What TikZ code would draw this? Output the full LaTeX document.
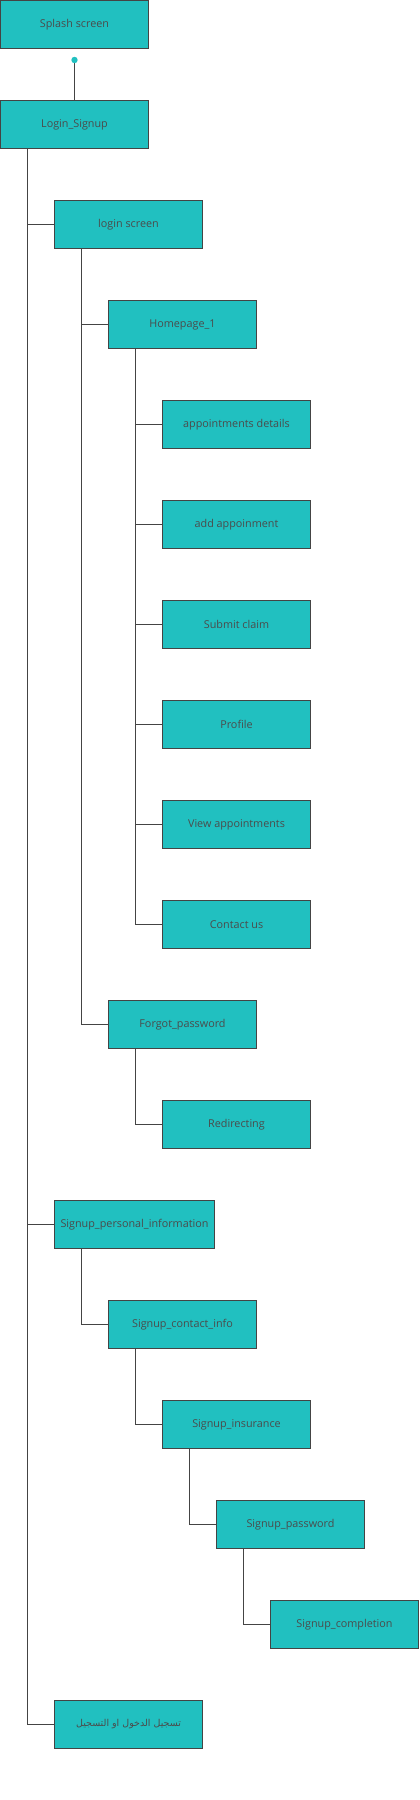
\documentclass[tikz,border=0pt]{standalone}
\usepackage{fontspec}
\setmainfont{Open Sans}
\newfontfamily\arabicfont[Script=Arabic]{DejaVu Sans}
\TeXXeTstate=1
\definecolor{boxfill}{RGB}{33,192,192}
\definecolor{boxline}{RGB}{68,68,68}
\definecolor{boxtext}{RGB}{75,75,75}
\tikzset{
  scr/.style={draw=boxline, line width=1pt, fill=boxfill, text=boxtext,
    minimum width=148pt, minimum height=48pt, inner sep=2pt,
    font=\fontsize{10.8pt}{13pt}\selectfont},
  wide/.style={scr, minimum width=160pt},
  link/.style={draw=boxline, line width=1pt}
}
\begin{document}
\begin{tikzpicture}[x=1pt,y=-1pt]
\useasboundingbox (0,0) rectangle (420,1800);
% level 0
\node[scr] (splash) at (74.5,24.5) {Splash screen};
\node[scr] (login) at (74.5,124.5) {Login\_Signup};
% level 1
\node[scr] (lscreen) at (128.5,224.5) {login screen};
\node[wide] (spi) at (134.5,1224.5) {Signup\_personal\_information};
\node[scr] (arab) at (128.5,1724.5) {\arabicfont\fontsize{9.5pt}{11pt}\selectfont\beginR تسجيل الدخول او التسجيل\endR};
% level 2
\node[scr] (home) at (182.5,324.5) {Homepage\_1};
\node[scr] (forgot) at (182.5,1024.5) {Forgot\_password};
\node[scr] (sci) at (182.5,1324.5) {Signup\_contact\_info};
% level 3
\node[scr] (appd) at (236.5,424.5) {appointments details};
\node[scr] (adda) at (236.5,524.5) {add appoinment};
\node[scr] (subm) at (236.5,624.5) {Submit claim};
\node[scr] (prof) at (236.5,724.5) {Profile};
\node[scr] (viewa) at (236.5,824.5) {View appointments};
\node[scr] (cont) at (236.5,924.5) {Contact us};
\node[scr] (redir) at (236.5,1124.5) {Redirecting};
\node[scr] (sins) at (236.5,1424.5) {Signup\_insurance};
% level 4
\node[scr] (spw) at (290.5,1524.5) {Signup\_password};
% level 5
\node[scr] (scomp) at (344.5,1624.5) {Signup\_completion};
% dot and link
\coordinate (dot) at ([yshift=-11pt]splash.south);
\draw[link] (dot) -- (login.north);
\fill[boxfill] (dot) circle (3.2pt);
% tree connectors
\foreach \c in {lscreen,spi,arab}
  \draw[link] ([xshift=27pt]login.south west) |- (\c.west);
\foreach \c in {home,forgot}
  \draw[link] ([xshift=27pt]lscreen.south west) |- (\c.west);
\foreach \c in {appd,adda,subm,prof,viewa,cont}
  \draw[link] ([xshift=27pt]home.south west) |- (\c.west);
\draw[link] ([xshift=27pt]forgot.south west) |- (redir.west);
\draw[link] ([xshift=27pt]spi.south west) |- (sci.west);
\draw[link] ([xshift=27pt]sci.south west) |- (sins.west);
\draw[link] ([xshift=27pt]sins.south west) |- (spw.west);
\draw[link] ([xshift=27pt]spw.south west) |- (scomp.west);
\end{tikzpicture}
\end{document}
